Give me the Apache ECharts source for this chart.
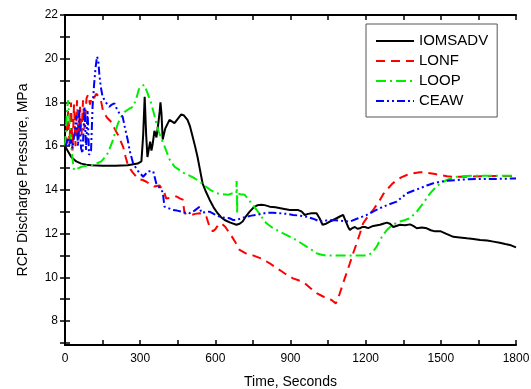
<!DOCTYPE html>
<html>
<head>
<meta charset="utf-8">
<script src="https://cdn.jsdelivr.net/npm/echarts@6/dist/echarts.min.js"></script>
<style>
html,body{margin:0;padding:0;background:#fff;}
#chart{width:531px;height:389px;}
</style>
</head>
<body>
<div id="chart"></div>
<script>
// ---- Data (time in seconds, pressure in MPa) ----
const seriesNames = ['IOMSADV', 'LONF', 'LOOP', 'CEAW'];

const dataIOMSADV = [
  [0,16.0],[10,15.8],[25,15.5],[45,15.3],[65,15.2],[85,15.15],[105,15.12],[150,15.1],[200,15.1],[250,15.12],
  [290,15.2],[305,15.3],[312,16.5],[318,18.26],[324,16.5],[329,15.5],[335,15.9],[340,16.2],[345,15.8],[350,16.1],
  [357,16.7],[365,16.4],[372,17.0],[378,17.6],[381,18.0],[385,17.5],[390,16.3],[400,16.8],[417,17.2],[437,17.05],
  [447,17.2],[457,17.35],[464,17.45],[475,17.4],[489,17.2],[499,16.9],[509,16.45],[519,16.0],[529,15.5],[539,14.9],
  [549,14.3],[563,13.9],[577,13.55],[593,13.2],[609,12.93],[623,12.75],[637,12.62],[660,12.5],[684,12.4],[697,12.45],
  [709,12.55],[723,12.8],[737,13.0],[753,13.2],[769,13.3],[783,13.32],[797,13.3],[817,13.23],[840,13.2],[865,13.15],
  [897,13.08],[929,13.08],[945,13.0],[957,12.85],[970,12.9],[984,12.93],[1004,12.93],[1016,12.7],[1028,12.4],[1042,12.45],
  [1057,12.55],[1070,12.62],[1084,12.7],[1097,12.78],[1110,12.85],[1121,12.55],[1130,12.3],[1137,12.16],[1147,12.25],[1157,12.3],
  [1167,12.22],[1177,12.24],[1187,12.3],[1197,12.3],[1210,12.25],[1230,12.35],[1257,12.4],[1270,12.45],[1284,12.5],[1297,12.45],
  [1310,12.3],[1337,12.4],[1357,12.38],[1377,12.42],[1390,12.35],[1404,12.24],[1424,12.28],[1444,12.24],[1460,12.15],[1477,12.1],
  [1500,12.1],[1520,12.0],[1550,11.85],[1575,11.82],[1604,11.78],[1630,11.75],[1657,11.7],[1685,11.68],[1710,11.63],[1735,11.58],
  [1757,11.52],[1780,11.46],[1800,11.37]
];

const dataLONF = [
  [0,16],[6,16.4],[12,17.6],[18,16.1],[24,18.0],[30,15.8],[36,17.9],[42,16.0],[48,18.1],[54,16.3],
  [60,17.8],[66,16.5],[72,18.1],[78,16.8],[86,18.2],[92,18.35],[100,17.9],[108,18.3],[116,18.2],[125,18.4],
  [135,18.25],[145,18.0],[152,17.6],[168,17.3],[185,17.1],[198,16.8],[212,16.5],[232,15.97],[242,15.5],[252,15.1],
  [270,14.8],[292,14.5],[310,14.45],[325,14.37],[340,14.25],[357,14.15],[377,14.2],[390,14.0],[397,13.85],[404,13.6],
  [425,13.65],[444,13.7],[460,13.6],[470,13.55],[477,12.93],[490,12.88],[504,12.85],[520,12.9],[537,12.93],[550,12.85],
  [564,12.78],[577,12.3],[590,12.1],[600,12.2],[612,12.4],[624,12.47],[640,12.3],[664,11.9],[680,11.6],[697,11.25],
  [720,11.1],[750,11.0],[785,10.85],[817,10.64],[840,10.45],[857,10.33],[880,10.15],[910,9.95],[935,9.85],[957,9.73],
  [980,9.5],[1004,9.27],[1030,9.12],[1050,9.04],[1065,8.95],[1081,8.8],[1095,9.2],[1110,9.73],[1124,10.2],[1137,10.64],
  [1150,11.1],[1164,11.55],[1177,12.0],[1190,12.47],[1210,12.8],[1230,13.08],[1257,13.54],[1270,13.8],[1284,14.0],[1304,14.25],
  [1324,14.45],[1344,14.58],[1364,14.68],[1390,14.76],[1417,14.8],[1437,14.8],[1457,14.76],[1477,14.72],[1497,14.68],[1525,14.62],
  [1550,14.6],[1580,14.6],[1617,14.6],[1660,14.62],[1710,14.63],[1760,14.63],[1800,14.63]
];

const dataLOOP = [
  [0,16],[4,16.8],[8,17.6],[12,18.1],[16,17.5],[20,16.8],[25,16.0],[30,15.4],[36,14.9],[45,14.95],
  [65,15.05],[85,15.1],[105,15.12],[125,15.2],[145,15.3],[160,15.5],[172,15.7],[182,16.0],[192,16.3],[202,16.7],
  [212,17.05],[225,17.35],[238,17.57],[255,17.7],[272,17.8],[285,18.2],[295,18.6],[305,18.75],[317,18.8],[330,18.4],
  [344,17.96],[357,17.4],[370,16.8],[384,16.35],[397,16.0],[417,15.4],[437,15.06],[457,14.9],[477,14.75],[497,14.65],
  [517,14.53],[537,14.38],[557,14.2],[580,14.0],[604,13.85],[627,13.8],[650,13.77],[670,13.85],[684,13.85],[685,14.4],
  [686,13.85],[687,12.9],[688,13.83],[700,13.8],[717,13.77],[733,13.55],[750,13.3],[764,13.1],[784,12.77],[804,12.47],
  [830,12.25],[857,12.09],[885,11.93],[910,11.78],[937,11.6],[964,11.4],[985,11.25],[1004,11.1],[1024,11.03],[1044,10.99],
  [1084,10.99],[1124,10.99],[1164,10.99],[1204,10.99],[1224,11.1],[1244,11.4],[1257,11.7],[1270,11.94],[1284,12.15],[1297,12.3],
  [1317,12.45],[1337,12.55],[1357,12.62],[1377,12.7],[1390,12.85],[1404,13.0],[1417,13.2],[1430,13.4],[1444,13.62],[1457,13.84],
  [1474,14.05],[1490,14.22],[1507,14.35],[1524,14.45],[1544,14.53],[1564,14.6],[1600,14.63],[1630,14.65],[1680,14.65],[1724,14.65],
  [1800,14.65]
];

const dataCEAW = [
  [0,16],[6,16.1],[12,16.4],[18,16.0],[24,16.3],[30,15.9],[38,16.6],[45,17.4],[52,16.0],[57,17.65],
  [64,15.9],[70,15.67],[78,17.8],[84,15.8],[90,17.65],[96,15.6],[104,15.8],[110,17.8],[116,18.8],[122,19.6],
  [128,20.1],[133,19.9],[137,19.3],[143,18.7],[150,18.26],[163,18.0],[177,17.8],[187,17.9],[197,17.96],[207,17.7],
  [217,17.5],[230,17.35],[240,16.8],[250,16.3],[258,15.8],[272,15.2],[292,14.85],[312,14.6],[332,14.85],[352,14.85],
  [364,14.3],[377,14.1],[390,13.9],[397,13.23],[415,13.15],[430,13.08],[447,13.05],[464,13.0],[480,12.96],[497,12.93],
  [517,13.05],[537,13.23],[544,12.95],[560,12.98],[577,13.0],[597,12.88],[617,12.77],[637,12.72],[657,12.7],[670,12.62],
  [684,12.62],[704,12.7],[724,12.77],[744,12.82],[764,12.85],[784,12.9],[804,12.95],[830,12.95],[857,12.93],[884,12.9],
  [910,12.85],[937,12.82],[964,12.77],[990,12.68],[1017,12.55],[1043,12.6],[1070,12.62],[1104,12.58],[1137,12.55],[1170,12.7],
  [1204,12.85],[1237,13.05],[1270,13.23],[1297,13.35],[1324,13.46],[1344,13.65],[1364,13.84],[1390,13.96],[1417,14.07],[1444,14.2],
  [1470,14.3],[1497,14.37],[1524,14.42],[1564,14.45],[1604,14.48],[1664,14.5],[1724,14.5],[1800,14.52]
];

const xTickLabels = [0, 300, 600, 900, 1200, 1500, 1800];
const yTickLabels = [8, 10, 12, 14, 16, 18, 20, 22];
const yMinorTicks = [7, 8, 9, 10, 11, 12, 13, 14, 15, 16, 17, 18, 19, 20, 21, 22];

// ---- Chart ----
const FONT = '"Liberation Sans", Arial, sans-serif';
const chart = echarts.init(document.getElementById('chart'), null, {renderer: 'canvas'});

const axisLineStyle = {show: true, lineStyle: {color: '#000', width: 2}};
const tickStyle = {show: true, inside: true, length: 5, lineStyle: {color: '#000', width: 1.5}};

const styles = {
  IOMSADV: {color: '#000000', type: 'solid', width: 2},
  LONF: {color: '#ff0000', type: [9, 6], width: 2},
  LOOP: {color: '#00ee00', type: [10, 4, 2, 4], width: 2},
  CEAW: {color: '#0000ff', type: [8, 3, 2, 3, 2, 3], width: 2}
};
const dataMap = {IOMSADV: dataIOMSADV, LONF: dataLONF, LOOP: dataLOOP, CEAW: dataCEAW};

chart.setOption({
  animation: false,
  backgroundColor: '#fff',
  textStyle: {fontFamily: FONT},
  grid: {left: 65, right: 15, top: 15, bottom: 44, containLabel: false, outerBoundsMode: 'none'},
  legend: {
    orient: 'vertical',
    left: 366, top: 24,
    itemWidth: 38, itemHeight: 14, itemGap: 0,
    padding: [7, 9, 6, 9],
    borderColor: '#555', borderWidth: 1,
    backgroundColor: '#fff',
    itemStyle: {opacity: 0, color: 'rgba(0,0,0,0)', borderWidth: 0},
    textStyle: {fontSize: 15, color: '#000', lineHeight: 20, fontFamily: FONT},
    data: seriesNames
  },
  xAxis: [{
    type: 'value', min: 0, max: 1800, interval: 150, position: 'bottom',
    axisLine: axisLineStyle, axisTick: tickStyle, splitLine: {show: false},
    axisLabel: {
      color: '#000', fontSize: 12, margin: 8, fontFamily: FONT,
      formatter: v => (xTickLabels.indexOf(v) >= 0 ? String(v) : '')
    },
    name: 'Time, Seconds', nameLocation: 'middle', nameGap: 30,
    nameTextStyle: {fontSize: 14, color: '#000', fontFamily: FONT}
  }, {
    type: 'value', min: 0, max: 1800, interval: 150, position: 'top',
    axisLine: axisLineStyle, axisTick: tickStyle, splitLine: {show: false},
    axisLabel: {show: false}
  }],
  yAxis: [{
    type: 'value', min: 6.9, max: 22, position: 'left',
    axisLine: axisLineStyle,
    axisTick: Object.assign({}, tickStyle, {customValues: yMinorTicks}),
    splitLine: {show: false},
    axisLabel: {color: '#000', fontSize: 12, margin: 7, fontFamily: FONT, customValues: yTickLabels},
    name: 'RCP Discharge Pressure, MPa', nameLocation: 'middle', nameGap: 35, nameRotate: 90,
    nameTextStyle: {fontSize: 14, color: '#000', fontFamily: FONT}
  }, {
    type: 'value', min: 6.9, max: 22, position: 'right',
    axisLine: axisLineStyle,
    axisTick: Object.assign({}, tickStyle, {customValues: yMinorTicks}),
    splitLine: {show: false},
    axisLabel: {show: false}
  }],
  series: seriesNames.map(n => ({
    name: n, type: 'line', xAxisIndex: 0, yAxisIndex: 0,
    data: dataMap[n], showSymbol: false, symbol: 'none', smooth: false,
    lineStyle: styles[n], itemStyle: {color: styles[n].color},
    emphasis: {disabled: true}
  }))
});
</script>
</body>
</html>
